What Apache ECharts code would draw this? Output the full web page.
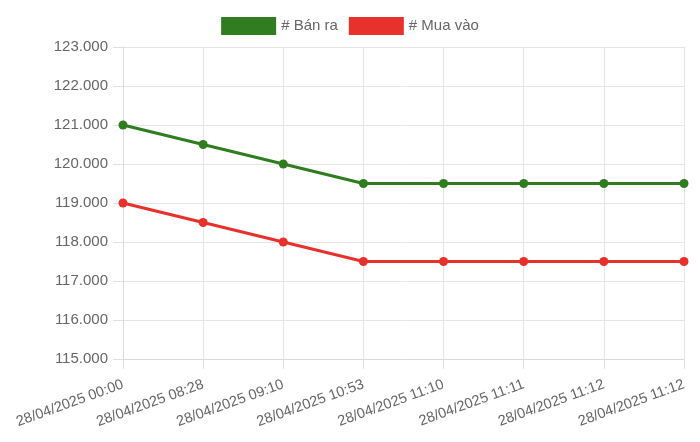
<!DOCTYPE html>
<html>
<head>
<meta charset="utf-8">
<script src="https://cdn.jsdelivr.net/npm/echarts@6/dist/echarts.min.js"></script>
<style>html,body{margin:0;padding:0;background:#fff}#c{width:700px;height:442px}</style>
</head>
<body>
<div id="c"></div>
<script>
const categories = ["28/04/2025 00:00","28/04/2025 08:28","28/04/2025 09:10","28/04/2025 10:53","28/04/2025 11:10","28/04/2025 11:11","28/04/2025 11:12","28/04/2025 11:12"];
const banRa = [121000,120500,120000,119500,119500,119500,119500,119500];
const muaVao = [119000,118500,118000,117500,117500,117500,117500,117500];
const seriesNames = ["# Bán ra","# Mua vào"];
const FONT = "'Liberation Sans', Arial, Helvetica, sans-serif";
const chart = echarts.init(document.getElementById('c'), null, {renderer:'canvas'});
function fmt(v){return String(v).replace(/\B(?=(\d{3})+(?!\d))/g,'.');}
chart.setOption({
  animation:false,
  textStyle:{fontFamily:FONT},
  legend:{
    top:12, left:'center', itemWidth:55, itemHeight:18, itemGap:11, icon:'rect',
    textStyle:{color:'#666',fontSize:15,fontFamily:FONT},
    data:seriesNames
  },
  grid:{left:123,right:16,top:47,bottom:83,containLabel:false},
  xAxis:{
    type:'category', data:categories, boundaryGap:false,
    axisLine:{show:true,lineStyle:{color:'#d9d9d9',width:1}},
    axisTick:{show:true,length:10,lineStyle:{color:'#e0e0e0'}},
    splitLine:{show:true,lineStyle:{color:'#e5e5e5',width:1}},
    axisLabel:{rotate:20,interval:0,margin:25,color:'#666',fontSize:14.5,fontFamily:FONT}
  },
  yAxis:{
    type:'value', min:115000, max:123000, interval:1000,
    axisLine:{show:true,lineStyle:{color:'#d9d9d9',width:1}},
    axisTick:{show:true,length:10,lineStyle:{color:'#e0e0e0'}},
    splitLine:{show:true,lineStyle:{color:'#e5e5e5',width:1}},
    axisLabel:{formatter:fmt,margin:15,color:'#666',fontSize:15,fontFamily:FONT}
  },
  series:[
    {name:seriesNames[0],type:'line',data:banRa,symbol:'circle',symbolSize:9,
     lineStyle:{width:3,color:'#2f7d1f'},itemStyle:{color:'#2f7d1f'}},
    {name:seriesNames[1],type:'line',data:muaVao,symbol:'circle',symbolSize:9,
     lineStyle:{width:3,color:'#e8312a'},itemStyle:{color:'#e8312a'}}
  ]
});
</script>
</body>
</html>
